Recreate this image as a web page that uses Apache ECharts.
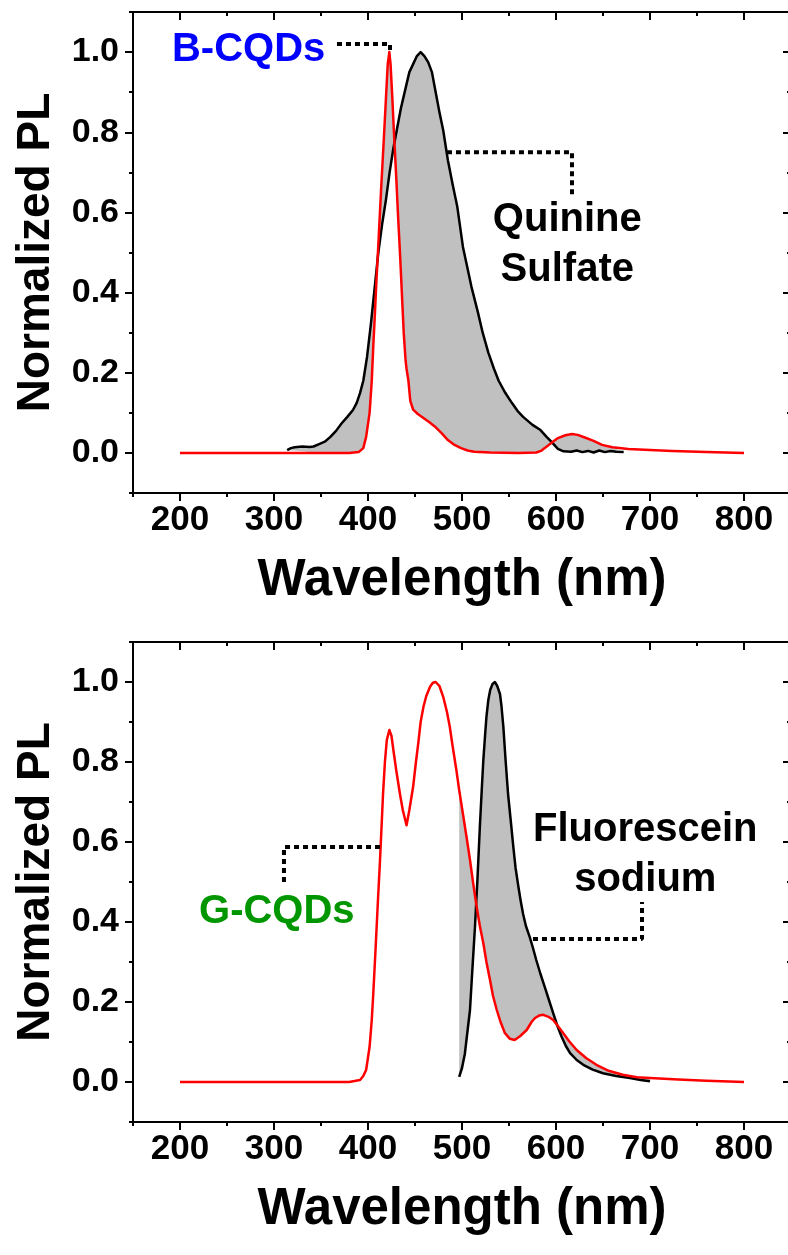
<!DOCTYPE html>
<html>
<head>
<meta charset="utf-8">
<script src="https://cdn.jsdelivr.net/npm/echarts@6/dist/echarts.min.js"></script>
<style>
  html, body { margin: 0; padding: 0; background: #ffffff; }
  #chart { width: 788px; height: 1255px; }
</style>
</head>
<body>
<div id="chart"></div>
<script>
// ---- Axis ticks ----
const wavelengthMajorTicks = [200, 300, 400, 500, 600, 700, 800];
const wavelengthMinorTicks = [150, 250, 350, 450, 550, 650, 750, 850];
const plMajorTicks = [0, 0.2, 0.4, 0.6, 0.8, 1.0];
const plMinorTicks = [-0.1, 0.1, 0.3, 0.5, 0.7, 0.9, 1.1];

// ---- Top panel: B-CQDs emission ----
const bcqdWavelength = [200, 250, 300, 350, 380, 390, 395, 398, 401.7, 404, 405.5, 407.4, 409, 411, 414, 417, 419, 421, 422.7, 424, 426, 428, 430, 432, 434, 436, 438, 440, 441, 443, 445, 448, 453, 459, 465, 471, 478, 485, 492, 499, 506, 513, 530, 560, 579, 584, 588, 595, 602, 610, 617, 623, 630, 640, 649, 660, 677, 700, 724, 760, 800];
const bcqdPL = [0, 0, 0, 0, 0, 0.002, 0.012, 0.04, 0.1, 0.18, 0.26, 0.35, 0.43, 0.52, 0.66, 0.79, 0.88, 0.97, 1.0, 0.97, 0.88, 0.78, 0.69, 0.59, 0.5, 0.4, 0.3, 0.23, 0.21, 0.18, 0.13, 0.108, 0.097, 0.087, 0.077, 0.066, 0.05, 0.032, 0.02, 0.012, 0.006, 0.003, 0.001, 0, 0.001, 0.005, 0.012, 0.025, 0.037, 0.044, 0.047, 0.045, 0.039, 0.03, 0.02, 0.014, 0.01, 0.007, 0.005, 0.002, 0];

// ---- Top panel: quinine sulfate reference ----
const quinineWavelength = [314, 318, 322, 330, 338, 342, 348, 354, 360, 366, 372, 378, 384, 388, 391.5, 395, 399, 403, 407, 411, 415, 419, 423, 427, 431, 435, 440, 444, 448, 452, 456, 460, 464, 468, 472, 476, 480, 485, 490, 495, 501, 505, 510, 517, 522, 528, 534, 539, 546, 553, 559, 565, 575, 583.5, 590, 595, 602, 608, 616, 622, 628, 634, 640, 646, 652, 658, 664, 672];
const quininePL = [0.007, 0.012, 0.014, 0.016, 0.015, 0.016, 0.022, 0.028, 0.04, 0.055, 0.074, 0.09, 0.107, 0.125, 0.149, 0.18, 0.24, 0.32, 0.41, 0.5, 0.57, 0.63, 0.7, 0.76, 0.81, 0.86, 0.91, 0.95, 0.97, 0.99, 1.0, 0.99, 0.975, 0.95, 0.9, 0.85, 0.805, 0.73, 0.67, 0.614, 0.514, 0.47, 0.415, 0.35, 0.3, 0.25, 0.21, 0.18, 0.15, 0.125, 0.105, 0.09, 0.07, 0.057, 0.04, 0.028, 0.01, 0.004, 0.003, 0.006, 0.002, 0.005, 0.001, 0.006, 0.002, 0.005, 0.003, 0.002];

// ---- Bottom panel: G-CQDs emission ----
const gcqdWavelength = [200, 250, 300, 350, 380, 391.5, 395, 398, 401.7, 404, 405.6, 408, 410.5, 412.8, 416, 418, 420, 422.7, 425, 427, 430, 434, 437, 441, 444, 448, 451, 453.5, 456, 459, 462, 466, 469, 472, 476, 480, 484, 487, 490, 494, 497, 501, 505, 508.5, 512, 515.6, 519, 522.7, 526, 529.8, 533, 537, 541, 545.7, 551, 556, 562, 568.8, 574, 577.7, 582, 586.5, 592, 597, 602, 607.8, 614, 622, 632, 643, 656, 671, 686, 700, 730, 760, 800];
const gcqdPL = [0, 0, 0, 0, 0, 0.005, 0.015, 0.03, 0.088, 0.155, 0.22, 0.33, 0.45, 0.555, 0.72, 0.8, 0.855, 0.88, 0.865, 0.83, 0.78, 0.72, 0.68, 0.642, 0.68, 0.738, 0.8, 0.847, 0.9, 0.938, 0.965, 0.988, 0.998, 1.0, 0.99, 0.963, 0.925, 0.888, 0.84, 0.78, 0.73, 0.67, 0.61, 0.555, 0.495, 0.438, 0.39, 0.347, 0.3, 0.255, 0.215, 0.18, 0.15, 0.122, 0.108, 0.105, 0.115, 0.13, 0.15, 0.16, 0.166, 0.168, 0.163, 0.155, 0.14, 0.122, 0.102, 0.08, 0.06, 0.043, 0.028, 0.018, 0.012, 0.01, 0.006, 0.003, 0];

// ---- Bottom panel: fluorescein sodium reference ----
const fluoresceinWavelength = [497, 500, 503, 506, 508.5, 511, 513.8, 516.5, 519, 521, 522.7, 524.5, 526, 528, 530, 532.5, 535, 537.5, 540.4, 542, 544, 546.5, 549, 552, 554.6, 557, 560, 562.5, 565, 568, 572, 575.5, 579, 583.5, 588, 592.5, 597, 601.5, 606, 610.5, 615, 622, 629, 639, 650, 664, 678.7, 690, 700];
const fluoresceinPL = [0.013, 0.035, 0.07, 0.13, 0.18, 0.28, 0.388, 0.51, 0.638, 0.73, 0.805, 0.865, 0.913, 0.955, 0.98, 0.995, 1.0, 0.99, 0.97, 0.94, 0.888, 0.8, 0.72, 0.65, 0.588, 0.535, 0.488, 0.452, 0.42, 0.39, 0.363, 0.335, 0.305, 0.27, 0.238, 0.205, 0.172, 0.14, 0.113, 0.09, 0.072, 0.055, 0.043, 0.031, 0.022, 0.015, 0.01, 0.005, 0.002];

// ---- Annotation texts and leader lines (data coordinates) ----
const upperLabels = [
  { text: 'B-CQDs', at: [273, 1.005], color: '#0000ff' },
  { text: 'Quinine\nSulfate', at: [612, 0.518], color: '#000000' }
];
const upperLeaders = [
  [[367, 1.02], [423.4, 1.02], [423.4, 1.0]],
  [[484, 0.75], [617, 0.75], [617, 0.638]]
];
const lowerLabels = [
  { text: 'G-CQDs', at: [303, 0.425], color: '#009600' },
  { text: 'Fluorescein\nsodium', at: [695, 0.568], color: '#000000' }
];
const lowerLeaders = [
  [[412.8, 0.5875], [310.6, 0.5875], [310.6, 0.4925]],
  [[575.5, 0.3575], [691.5, 0.3575], [691.5, 0.45]]
];

const FONT = '"Liberation Sans", Arial, Helvetica, sans-serif';
const zip = (xs, ys) => xs.map((x, i) => [x, ys[i]]);

function xAxesFor(gridIndex) {
  const base = {
    type: 'value', gridIndex, min: 150, max: 850, interval: 50,
    splitLine: { show: false }
  };
  const line = { show: true, onZero: false, lineStyle: { color: '#000', width: 2 } };
  return [
    Object.assign({}, base, {
      position: 'bottom',
      axisLine: line,
      axisTick: { show: true, length: 8, lineStyle: { color: '#000', width: 2 }, customValues: wavelengthMajorTicks },
      axisLabel: {
        show: true, customValues: wavelengthMajorTicks, margin: 10,
        fontSize: 35, fontWeight: 'bold', color: '#000', fontFamily: FONT
      },
      name: 'Wavelength (nm)', nameLocation: 'middle', nameGap: 62,
      nameTextStyle: { fontSize: 51, fontWeight: 'bold', color: '#000', fontFamily: FONT }
    }),
    Object.assign({}, base, {
      position: 'bottom',
      axisLine: { show: false, onZero: false },
      axisTick: { show: true, length: 4, lineStyle: { color: '#000', width: 2 }, customValues: wavelengthMinorTicks },
      axisLabel: { show: false }
    }),
    Object.assign({}, base, {
      position: 'top',
      axisLine: line,
      axisTick: { show: true, inside: true, length: 8, lineStyle: { color: '#000', width: 2 }, customValues: wavelengthMajorTicks },
      axisLabel: { show: false }
    }),
    Object.assign({}, base, {
      position: 'top',
      axisLine: { show: false, onZero: false },
      axisTick: { show: true, inside: true, length: 4, lineStyle: { color: '#000', width: 2 }, customValues: wavelengthMinorTicks },
      axisLabel: { show: false }
    })
  ];
}

function yAxesFor(gridIndex) {
  const base = {
    type: 'value', gridIndex, min: -0.1, max: 1.1, interval: 0.1,
    splitLine: { show: false }
  };
  const line = { show: true, onZero: false, lineStyle: { color: '#000', width: 2 } };
  return [
    Object.assign({}, base, {
      position: 'left',
      axisLine: line,
      axisTick: { show: true, length: 8, lineStyle: { color: '#000', width: 2 }, customValues: plMajorTicks },
      axisLabel: {
        show: true, customValues: plMajorTicks, margin: 14,
        formatter: v => Number(v).toFixed(1),
        fontSize: 34, fontWeight: 'bold', color: '#000', fontFamily: FONT
      },
      name: 'Normalized PL', nameLocation: 'middle', nameGap: 74, nameRotate: 90,
      nameTextStyle: { fontSize: 46, fontWeight: 'bold', color: '#000', fontFamily: FONT }
    }),
    Object.assign({}, base, {
      position: 'left',
      axisLine: { show: false, onZero: false },
      axisTick: { show: true, length: 4, lineStyle: { color: '#000', width: 2 }, customValues: plMinorTicks },
      axisLabel: { show: false }
    }),
    Object.assign({}, base, {
      position: 'right',
      axisLine: line,
      axisTick: { show: true, inside: true, length: 8, lineStyle: { color: '#000', width: 2 }, customValues: plMajorTicks },
      axisLabel: { show: false }
    }),
    Object.assign({}, base, {
      position: 'right',
      axisLine: { show: false, onZero: false },
      axisTick: { show: true, inside: true, length: 4, lineStyle: { color: '#000', width: 2 }, customValues: plMinorTicks },
      axisLabel: { show: false }
    })
  ];
}

// Gray area enclosed between the reference spectrum and the sample spectrum,
// over the wavelength span of the reference.
function gapFill(axisIndex, reference, sample) {
  const lo = reference[0][0];
  const hi = reference[reference.length - 1][0];
  const back = sample.filter(p => p[0] >= lo && p[0] <= hi).reverse();
  const outline = reference.concat(back);
  return {
    type: 'custom', xAxisIndex: axisIndex, yAxisIndex: axisIndex,
    data: [outline[0]], z: 1, silent: true, clip: true,
    renderItem: (params, api) => ({
      type: 'polygon',
      shape: { points: outline.map(p => api.coord(p)) },
      style: { fill: '#c0c0c0', stroke: null }
    })
  };
}

function spectrum(axisIndex, pts, color, z) {
  return {
    type: 'line', xAxisIndex: axisIndex, yAxisIndex: axisIndex,
    data: pts, showSymbol: false, symbol: 'none', smooth: false, z,
    lineStyle: { color, width: 2.5, join: 'round' }, silent: true
  };
}

function leader(axisIndex, pts) {
  return {
    type: 'line', xAxisIndex: axisIndex, yAxisIndex: axisIndex,
    data: pts, symbol: 'none', z: 5, silent: true,
    lineStyle: { color: '#000', width: 4, type: [5, 4], cap: 'butt' }
  };
}

function textMarks(axisIndex, labels) {
  return {
    type: 'scatter', xAxisIndex: axisIndex, yAxisIndex: axisIndex,
    symbolSize: 1, z: 6, silent: true,
    itemStyle: { color: 'rgba(0,0,0,0)', opacity: 1 },
    data: labels.map(l => ({
      value: l.at,
      label: {
        show: true, position: 'inside', formatter: l.text, color: l.color, opacity: 1,
        fontSize: 40, fontWeight: 'bold', fontFamily: FONT, lineHeight: 50, align: 'center'
      }
    }))
  };
}

const bcqd = zip(bcqdWavelength, bcqdPL);
const quinine = zip(quinineWavelength, quininePL);
const gcqd = zip(gcqdWavelength, gcqdPL);
const fluorescein = zip(fluoresceinWavelength, fluoresceinPL);

const option = {
  animation: false,
  backgroundColor: '#ffffff',
  grid: [
    { left: 133, top: 12, width: 658, height: 481, outerBoundsMode: 'none', containLabel: false },
    { left: 133, top: 642, width: 658, height: 480, outerBoundsMode: 'none', containLabel: false }
  ],
  xAxis: xAxesFor(0).concat(xAxesFor(1)),
  yAxis: yAxesFor(0).concat(yAxesFor(1)),
  series: [
    gapFill(0, quinine, bcqd),
    spectrum(0, quinine, '#000000', 2),
    spectrum(0, bcqd, '#ff0000', 3),
    leader(0, upperLeaders[0]),
    leader(0, upperLeaders[1]),
    textMarks(0, upperLabels),

    gapFill(4, fluorescein, gcqd),
    spectrum(4, fluorescein, '#000000', 2),
    spectrum(4, gcqd, '#ff0000', 3),
    leader(4, lowerLeaders[0]),
    leader(4, lowerLeaders[1]),
    textMarks(4, lowerLabels)
  ]
};

const chart = echarts.init(document.getElementById('chart'), null, { renderer: 'canvas' });
chart.setOption(option);
</script>
</body>
</html>
